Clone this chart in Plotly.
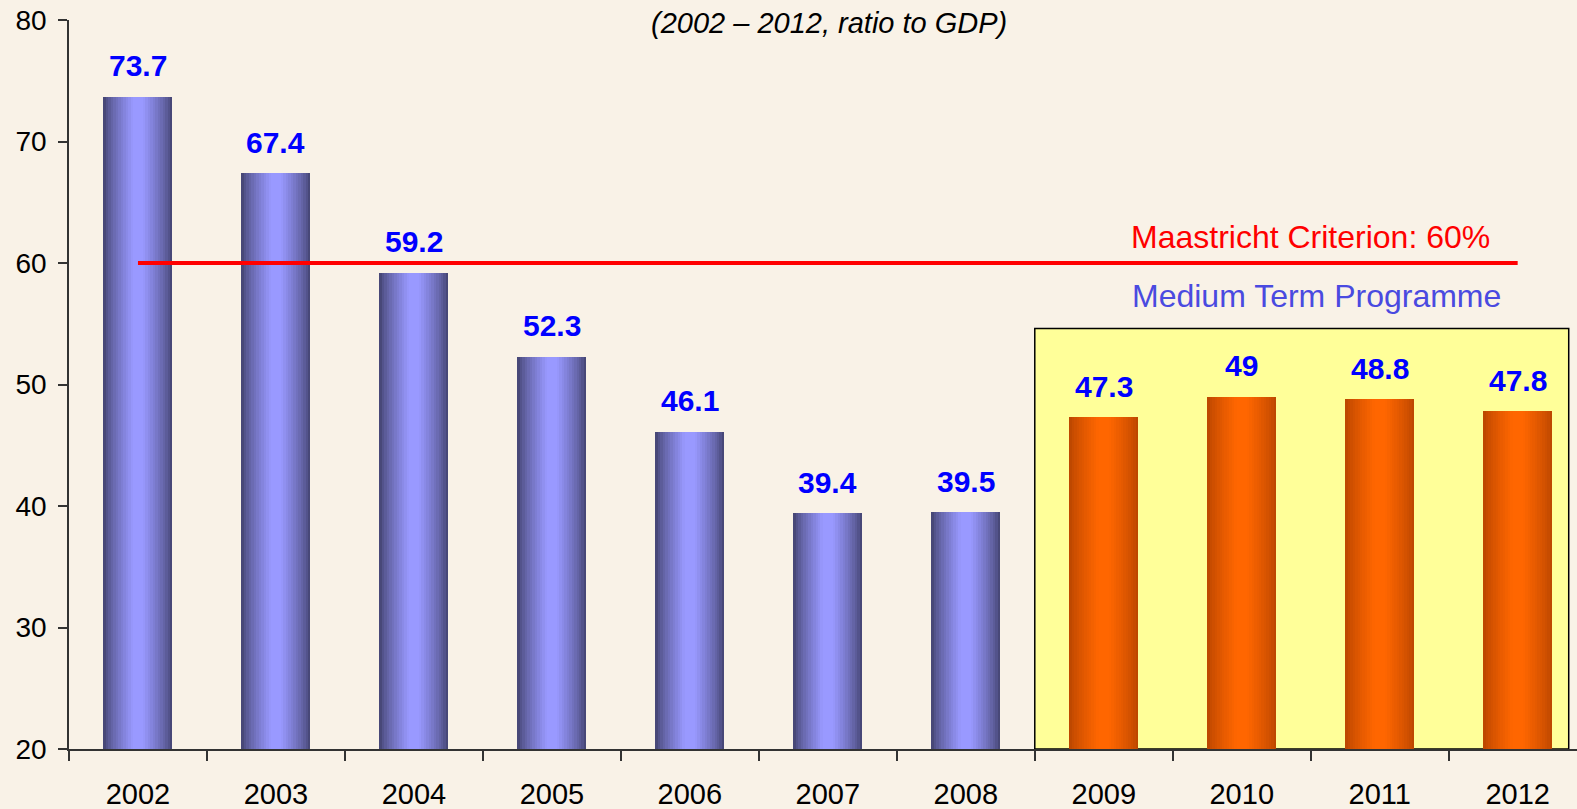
import plotly.graph_objects as go

years = ["2002", "2003", "2004", "2005", "2006", "2007", "2008", "2009", "2010", "2011", "2012"]
values = [73.7, 67.4, 59.2, 52.3, 46.1, 39.4, 39.5, 47.3, 49.0, 48.8, 47.8]
labels = ["73.7", "67.4", "59.2", "52.3", "46.1", "39.4", "39.5", "47.3", "49", "48.8", "47.8"]
programme = [False] * 7 + [True] * 4
criterion = 60
y_ticks = [20, 30, 40, 50, 60, 70, 80]

FONT = "Liberation Sans, Arial, sans-serif"
BG = "#F9F2E7"

blue_edge, blue_mid = (72, 72, 120), (153, 153, 255)
orange_edge, orange_mid = (190, 72, 0), (255, 102, 0)


def mix(a, b, t):
    return "rgb(%d,%d,%d)" % tuple(round(a[k] + (b[k] - a[k]) * t) for k in range(3))


fig = go.Figure()
N = 14
full_w = 0.5
for i in range(N):
    t = i / (N - 1)
    w = full_w * (1 - i / N)
    tt = min(1.0, t ** 0.8 * 1.1)
    cols = [mix(orange_edge, orange_mid, tt) if p else mix(blue_edge, blue_mid, tt) for p in programme]
    fig.add_trace(go.Bar(
        x=years, y=values, width=w,
        marker=dict(color=cols, line=dict(width=0)),
        hoverinfo="skip", showlegend=False,
    ))

# value labels
for i, (v, lab) in enumerate(zip(values, labels)):
    fig.add_annotation(x=i, y=v, text="<b>%s</b>" % lab, showarrow=False,
                       yanchor="middle", yshift=31,
                       font=dict(family=FONT, size=30, color="#0000FF"))

# yellow box for the programme
fig.add_shape(type="rect", xref="x", yref="y", x0=6.5, x1=10.37, y0=20, y1=54.6,
              fillcolor="#FFFF99", line=dict(color="#000000", width=1.5), layer="below")

# Maastricht criterion line
fig.add_shape(type="line", xref="x", yref="y", x0=0, x1=10, y0=criterion, y1=criterion,
              line=dict(color="#FF0000", width=4), layer="above")

fig.add_annotation(x=8.5, y=62.1, text="Maastricht Criterion: 60%", showarrow=False,
                   font=dict(family=FONT, size=32, color="#FF0000"))
fig.add_annotation(x=8.54, y=57.3, text="Medium Term Programme", showarrow=False,
                   font=dict(family=FONT, size=32, color="#4A4AE0"))

fig.add_annotation(xref="paper", yref="paper", x=0.504, y=1.0, yanchor="middle", yshift=-3,
                   text="<i>(2002 – 2012, ratio to GDP)</i>", showarrow=False,
                   font=dict(family=FONT, size=29, color="#000000"))

fig.update_layout(
    width=1577, height=809,
    margin=dict(l=69, r=0, t=20, b=60, autoexpand=False),
    paper_bgcolor=BG, plot_bgcolor=BG,
    barmode="overlay", bargap=0,
    showlegend=False,
)
fig.update_xaxes(
    type="category", range=[-0.5, 10.43], automargin=False,
    tickson="boundaries", ticks="outside", ticklen=10, tickwidth=1.5, tickcolor="#333333",
    ticklabelstandoff=18,
    showline=True, linecolor="#333333", linewidth=1.5, showgrid=False, zeroline=False,
    tickfont=dict(family=FONT, size=29, color="#000000"),
)
fig.update_yaxes(
    range=[20, 80], tickvals=y_ticks, automargin=False,
    ticks="outside", ticklen=9, tickwidth=1.5, tickcolor="#333333",
    ticklabelstandoff=6,
    showline=True, linecolor="#333333", linewidth=1.5, showgrid=False, zeroline=False,
    tickfont=dict(family=FONT, size=28, color="#000000"),
)

fig.write_html(
    "out.html",
    config={"displayModeBar": False},
    post_script="document.body.style.margin='0';document.body.style.overflow='hidden';"
                "document.body.style.background='%s';" % BG,
)
